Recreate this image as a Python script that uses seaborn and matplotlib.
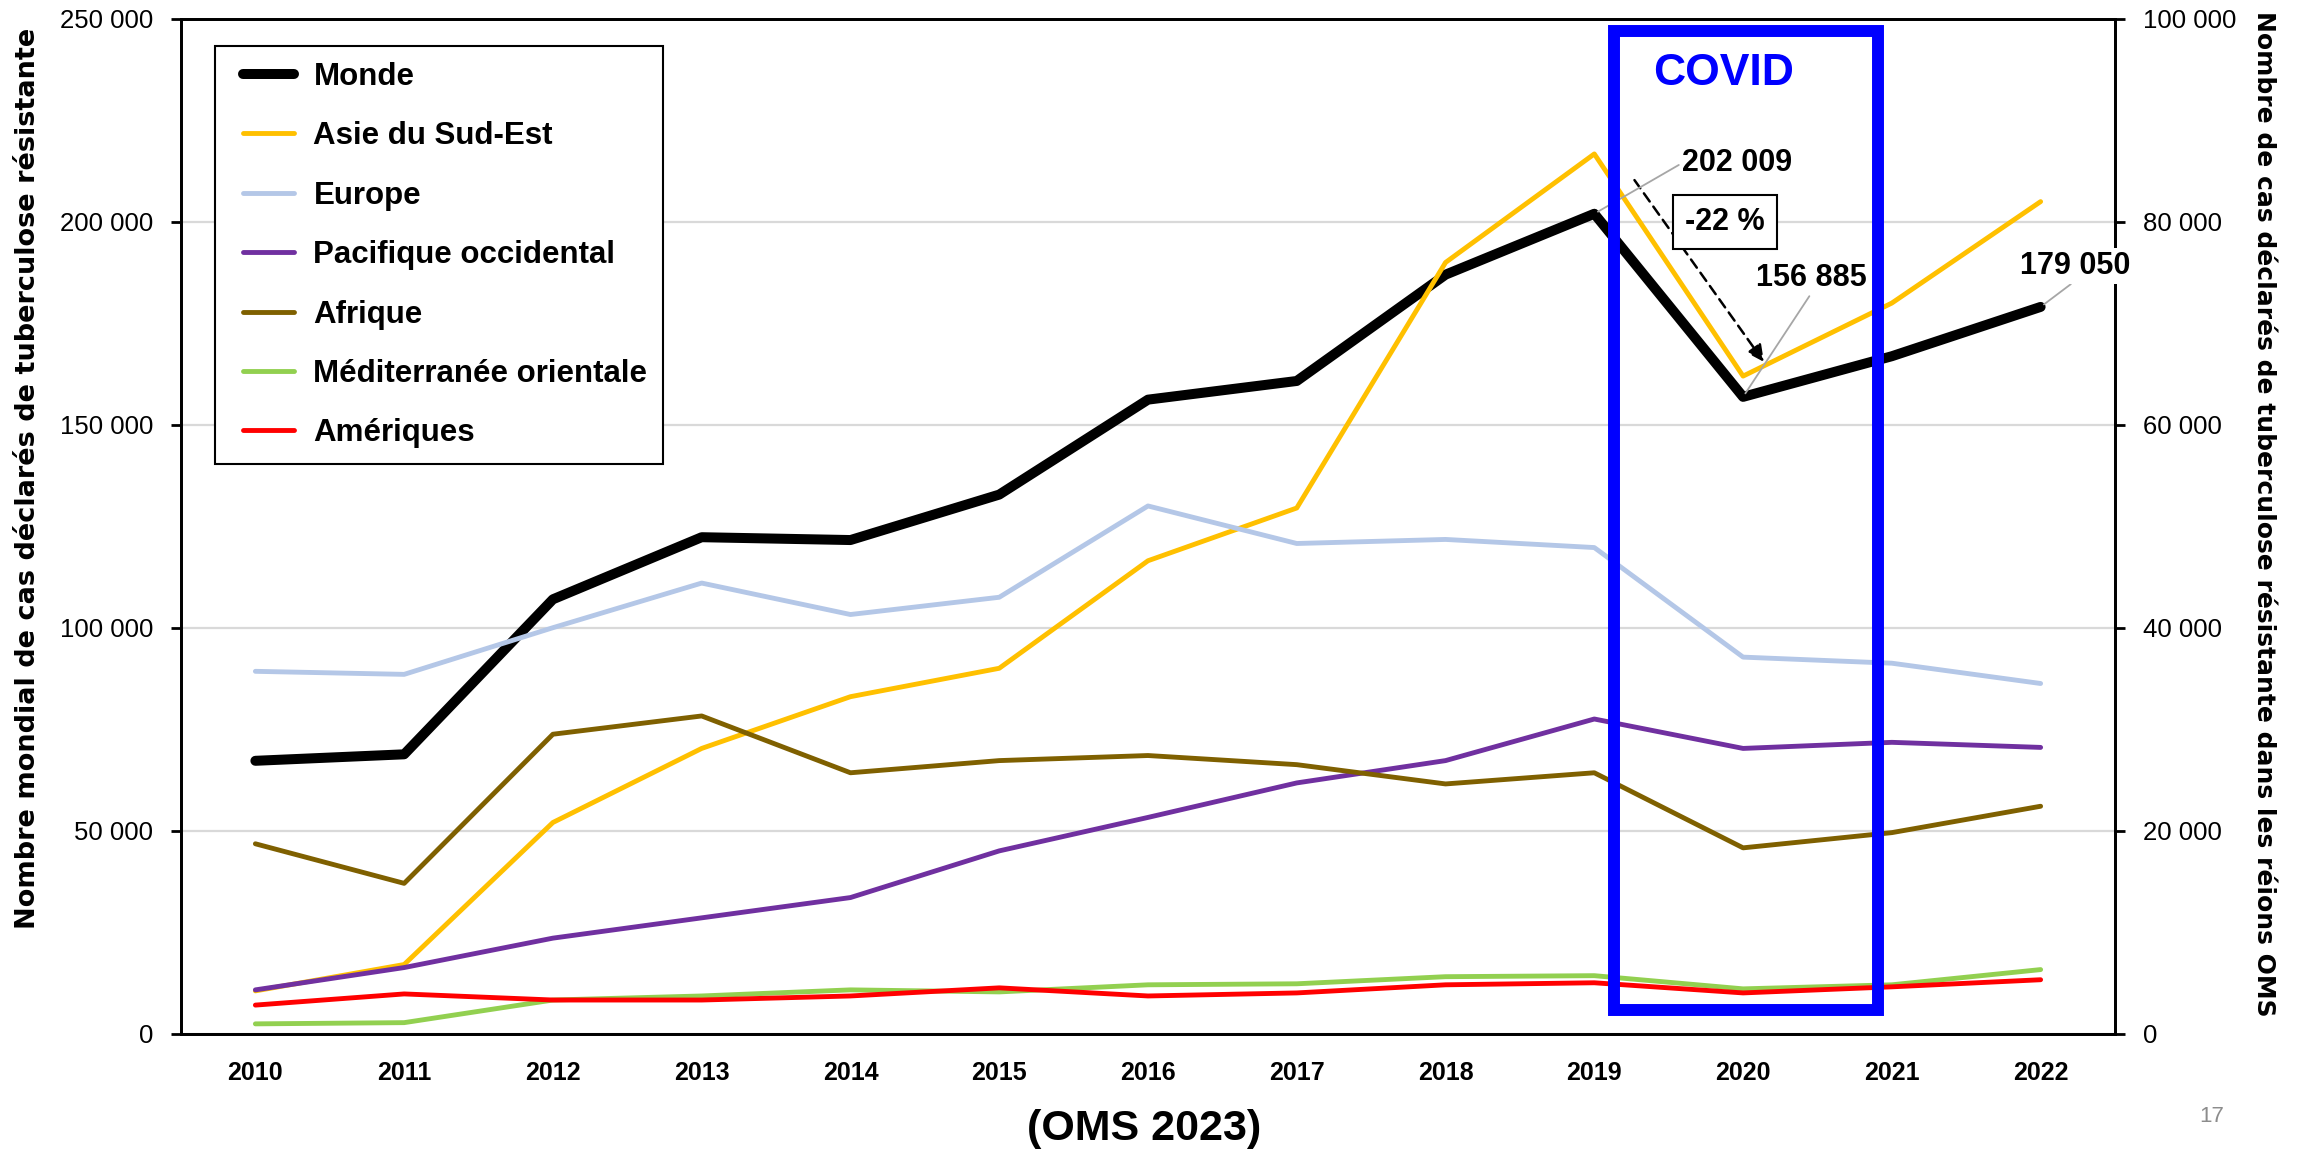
import pandas as pd
import matplotlib.pyplot as plt
import seaborn as sns
from matplotlib.lines import Line2D
from matplotlib.legend_handler import HandlerLine2D
from matplotlib.patches import Rectangle
from matplotlib.ticker import FuncFormatter, FixedLocator

# Data
years = list(range(2010, 2023))
monde = [67200, 68800, 107000, 122300, 121600, 132800, 156200, 160800, 187000, 202009, 156885, 166900, 179050]
asie_se = [4200, 6800, 20800, 28100, 33200, 36000, 46600, 51800, 76000, 86700, 64800, 72000, 82000]
europe = [35700, 35400, 40000, 44400, 41300, 43000, 52000, 48300, 48700, 47900, 37100, 36500, 34500]
pacifique = [4300, 6500, 9400, 11400, 13400, 18000, 21300, 24700, 26900, 31000, 28100, 28700, 28200]
afrique = [18700, 14800, 29500, 31300, 25700, 26900, 27400, 26500, 24600, 25700, 18300, 19800, 22400]
mediterranee = [950, 1070, 3300, 3700, 4300, 4100, 4800, 4900, 5600, 5700, 4400, 4800, 6300]
ameriques = [2800, 3900, 3300, 3300, 3700, 4500, 3700, 4000, 4800, 5000, 4000, 4600, 5300]

region_names = ['Asie du Sud-Est', 'Europe', 'Pacifique occidental', 'Afrique',
                'Méditerranée orientale', 'Amériques']
region_values = [asie_se, europe, pacifique, afrique, mediterranee, ameriques]
region_colors = ['#FFC000', '#B4C7E7', '#7030A0', '#7F6000', '#92D050', '#FF0000']

df_monde = pd.DataFrame({'Année': years, 'Cas': monde})
df_regions = pd.concat(
    [pd.DataFrame({'Année': years, 'Région': name, 'Cas': vals})
     for name, vals in zip(region_names, region_values)],
    ignore_index=True)

sns.set_style('white')
plt.rcParams['font.family'] = ['Liberation Sans', 'DejaVu Sans']
plt.rcParams.update({'text.color': 'black', 'axes.labelcolor': 'black',
                     'xtick.color': 'black', 'ytick.color': 'black'})

W, H = 2305, 1154
fig = plt.figure(figsize=(W / 100, H / 100), dpi=100)
ax = fig.add_axes([181 / W, 1 - 1033.5 / H, 1934 / W, 1014.5 / H])
ax2 = ax.twinx()

# Lines
sns.lineplot(data=df_monde, x='Année', y='Cas', ax=ax, color='black', lw=7.2,
             solid_capstyle='round', legend=False)
sns.lineplot(data=df_regions, x='Année', y='Cas', hue='Région', hue_order=region_names,
             palette=dict(zip(region_names, region_colors)), ax=ax2, lw=3.5,
             solid_capstyle='round', legend=False)

# Axes
ax.set_xlim(2009.5, 2022.5)
ax.set_ylim(0, 250000)
ax2.set_ylim(0, 100000)
ax.set_yticks(range(0, 250001, 50000))
ax2.set_yticks(range(0, 100001, 20000))
fmt = FuncFormatter(lambda v, p: f"{int(v):,}".replace(',', ' '))
ax.yaxis.set_major_formatter(fmt)
ax2.yaxis.set_major_formatter(fmt)

ax.set_xticks(years)
ax.set_xticklabels([str(y) for y in years], fontsize=18, fontweight='bold')
ax.xaxis.set_minor_locator(FixedLocator([y - 0.5 for y in years] + [2022.5]))
ax.tick_params(axis='x', which='major', length=0, pad=20)
ax.tick_params(axis='x', which='minor', length=7, width=2, direction='out', color='black')
ax.tick_params(axis='y', length=7, width=2, direction='out', color='black', labelsize=18.5, pad=13)
ax2.tick_params(axis='y', length=7, width=2, direction='out', color='black', labelsize=18.5, pad=13)

ax.grid(axis='y', color='#D9D9D9', lw=1.6)
ax.grid(axis='x', visible=False)
ax2.grid(False)
for a in (ax, ax2):
    for s in a.spines.values():
        s.set_color('black')
        s.set_linewidth(2)

ax.set_xlabel('')
ax.set_ylabel('Nombre mondial de cas déclarés de tuberculose résistante',
              fontsize=19.5, fontweight='bold', family='DejaVu Sans')
ax.yaxis.set_label_coords(-0.0724, 0.547)
ax2.set_ylabel('Nombre de cas déclarés de tuberculose résistante dans les réions OMS',
               fontsize=18, fontweight='bold', family='DejaVu Sans', rotation=-90, va='center')
ax2.yaxis.set_label_coords(1.077, 0.512)

# Legend
handles = [Line2D([0], [0], color='black', lw=7.2, solid_capstyle='round')]
handles += [Line2D([0], [0], color=c, lw=3.5, solid_capstyle='round') for c in region_colors]
leg = ax2.legend(handles, ['Monde'] + region_names, loc='upper left',
                 bbox_to_anchor=(0.0176, 0.973), borderaxespad=0, frameon=True,
                 fancybox=False, edgecolor='black', framealpha=1,
                 prop={'weight': 'bold', 'size': 22.5}, handlelength=2.04,
                 handletextpad=0.61, labelspacing=0.94, borderpad=0.5,
                 handler_map={Line2D: HandlerLine2D(xpad=0.4)})
leg.get_frame().set_linewidth(1.5)

# Annotations on the world series
lead = dict(arrowstyle='-', color='#A6A6A6', lw=1.3, shrinkA=0, shrinkB=3)
ax2.annotate('202 009', xy=(2019, 202009), xytext=(2019.59, 214500),
             xycoords=ax.transData, textcoords=ax.transData, ha='left', va='center',
             fontsize=22, fontweight='bold', zorder=6,
             arrowprops=dict(lead, relpos=(0, 0.5)))
ax2.annotate('156 885', xy=(2020, 156885), xytext=(2020.46, 186200),
             xycoords=ax.transData, textcoords=ax.transData, ha='center', va='center',
             fontsize=22, fontweight='bold', zorder=6,
             arrowprops=dict(lead, relpos=(0.5, 0)))
ax2.annotate('179 050', xy=(2022, 179050), xytext=(2022.23, 189100),
             xycoords=ax.transData, textcoords=ax.transData, ha='center', va='center',
             fontsize=22, fontweight='bold', zorder=6, annotation_clip=False,
             bbox=dict(boxstyle='square,pad=0.1', fc='white', ec='none'),
             arrowprops=dict(lead, relpos=(0.5, 0)))
ax2.annotate('', xy=(2020.14, 165500), xytext=(2019.27, 210300),
             xycoords=ax.transData, textcoords=ax.transData, zorder=5,
             arrowprops=dict(arrowstyle='-|>', color='black', lw=1.8,
                             linestyle=(0, (4, 2.5)), mutation_scale=25,
                             shrinkA=0, shrinkB=0))
ax2.text(2019.88, 200000, '-22 %', transform=ax.transData, ha='center', va='center',
         fontsize=22, fontweight='bold', zorder=7,
         bbox=dict(boxstyle='square,pad=0.4', fc='white', ec='black', lw=1.5))

# COVID box
ax2.add_patch(Rectangle((2019.13, 2300), 1.78, 96520, fill=False, ec='#0000FF',
                        lw=8.6, joinstyle='miter', zorder=8, clip_on=False))
ax2.text(2019.87, 94600, 'COVID', color='#0000FF', fontsize=32, fontweight='bold',
         ha='center', va='center', zorder=8)

fig.text(1144 / W, 1 - 1129 / H, '(OMS 2023)', fontsize=31, fontweight='bold',
         ha='center', va='center')
fig.text(2212 / W, 1 - 1117 / H, '17', fontsize=16, color='#8C8C8C', ha='center', va='center')

fig.savefig('out.png', dpi=100)
plt.close(fig)
